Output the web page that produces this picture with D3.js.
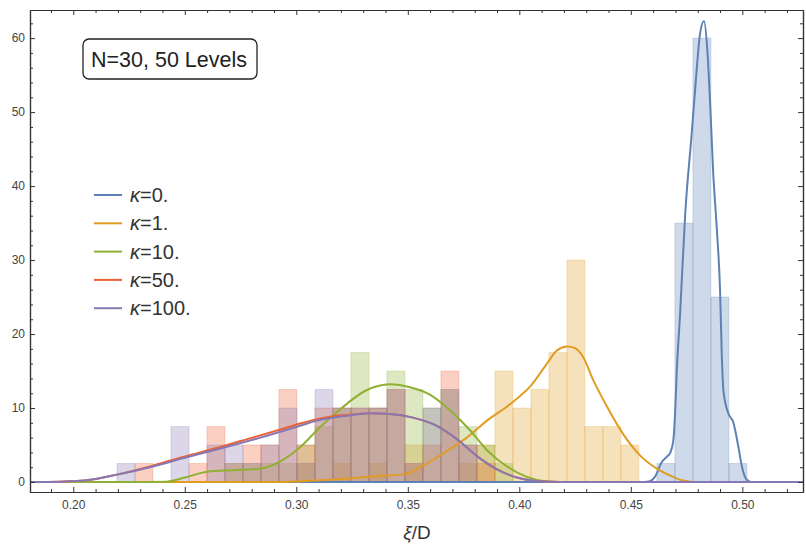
<!DOCTYPE html>
<html>
<head>
<meta charset="utf-8">
<script src="https://cdn.jsdelivr.net/npm/d3@7"></script>
<style>
  body { margin: 0; background: #fff; }
  text { font-family: "Liberation Sans", Arial, sans-serif; }
  .axis path { stroke: #333; }
  .axis line { stroke: #333; }
  .axis text { fill: #444; font-size: 12px; }
</style>
</head>
<body>
<div id="chart"></div>
<script>
// series (legend order)
var kappas = ["0.", "1.", "10.", "50.", "100."];
var colors = ["#5E81B5", "#E19C24", "#8FB032", "#EB6235", "#8778B3"];

// histogram bins (common grid), heights
var binStart = 0.2196, binWidth = 0.00807;
var histK0   = [0,0,0,0,0,0,0,0,0,0, 0,0,0,0,0,0,0,0,0,0, 0,0,0,0,0,0,0,0,0,0, 2.5,35,60,25,2.5];
var histK1   = [0,0,0,0,0,0,0,0,0,0, 2.5,0,2.5,0,2.5,0,5,0,0,2.5, 5,15,10,12.5,17.5,30,7.5,7.5,5,0, 0,0,0,0,0];
var histK10  = [0,0,0,0,0,0,2.5,2.5,2.5,2.5, 5,7.5,10,17.5,10,15,12.5,10,12.5,7.5, 5,2.5,0,0,0,0,0,0,0,0, 0,0,0,0,0];
var histK50  = [0,2.5,0,0,2.5,7.5,2.5,5,5,12.5, 5,10,10,10,10,12.5,2.5,5,15,5, 2.5,0,0,0,0,0,0,0,0,0, 0,0,0,0,0];
var histK100 = [2.5,0,0,7.5,0,5,5,2.5,5,10, 2.5,12.5,10,10,10,12.5,2.5,10,12.5,5, 0,0,0,0,0,0,0,0,0,0, 0,0,0,0,0];

// smoothed density curves [xi/D, density]
var curveK0 = [[0.1806,0],[0.4560,0],[0.4585,0.1],[0.4608,0.7],[0.4639,2.7],[0.4661,3.4],[0.4676,3.9],
  [0.4690,5.5],[0.4698,9],[0.4706,15],[0.4721,22.8],[0.4744,36.3],[0.4773,47.1],[0.4796,56],
  [0.4810,60.5],[0.4828,62.3],[0.4843,58.4],[0.4855,51.6],[0.4869,42],[0.4886,34],[0.4900,26],
  [0.4908,17],[0.4915,12.4],[0.4937,9.3],[0.4960,8],[0.4982,4.8],[0.4998,2.1],[0.5020,0.3],[0.5040,0],[0.5272,0]];
var curveK1 = [[0.1806,0],[0.2900,0],[0.3017,0.1],[0.3150,0.3],[0.3245,0.5],[0.3375,0.8],[0.3490,1.1],
  [0.3568,2.2],[0.3650,3.7],[0.3760,5.9],[0.3868,8.6],[0.3936,10.0],[0.3990,11.3],[0.4048,12.9],
  [0.4124,16.0],[0.4169,17.8],[0.4214,18.3],[0.4250,18.1],[0.4286,16.9],[0.4331,13.8],[0.4393,10.2],
  [0.4465,6.5],[0.4541,3.6],[0.4617,1.8],[0.4689,0.7],[0.4734,0.2],[0.4787,0],[0.5272,0]];
var curveK10 = [[0.1806,0],[0.2254,0],[0.2420,0.05],[0.2501,0.6],[0.2600,1.4],[0.2716,1.6],[0.2837,1.8],
  [0.2940,3.0],[0.3017,4.7],[0.3106,7.4],[0.3196,9.8],[0.3308,12.3],[0.3420,13.2],[0.3496,12.9],
  [0.3599,11.8],[0.3689,9.7],[0.3779,7.0],[0.3855,4.3],[0.3945,2.1],[0.4034,0.7],[0.4115,0.1],[0.4183,0],[0.5272,0]];
var curveK50 = [[0.1806,0],[0.1940,0.05],[0.2075,0.3],[0.2196,1.0],[0.2344,2.1],[0.2492,3.4],[0.2643,4.6],
  [0.2792,5.9],[0.2940,7.2],[0.3017,7.9],[0.3093,8.5],[0.3165,8.9],[0.3241,9.1],[0.3330,9.3],
  [0.3420,9.2],[0.3523,8.7],[0.3630,7.6],[0.3720,5.8],[0.3810,3.5],[0.3900,1.7],[0.4003,0.5],[0.4093,0.1],[0.4183,0],[0.5272,0]];
var curveK100 = [[0.1806,0],[0.1940,0.05],[0.2075,0.3],[0.2196,1.0],[0.2344,2.0],[0.2492,3.2],[0.2643,4.4],
  [0.2792,5.6],[0.2940,6.9],[0.3017,7.6],[0.3093,8.3],[0.3165,8.7],[0.3241,9.0],[0.3330,9.3],
  [0.3420,9.2],[0.3523,8.7],[0.3630,7.6],[0.3720,5.8],[0.3810,3.5],[0.3900,1.7],[0.4003,0.5],[0.4093,0.1],[0.4183,0],[0.5272,0]];

// axis ticks
var xMajor = [0.20, 0.25, 0.30, 0.35, 0.40, 0.45, 0.50];
var xLabels = ["0.20", "0.25", "0.30", "0.35", "0.40", "0.45", "0.50"];
var xMinor = [0.19,0.21,0.22,0.23,0.24,0.26,0.27,0.28,0.29,0.31,0.32,0.33,0.34,0.36,0.37,0.38,0.39,
              0.41,0.42,0.43,0.44,0.46,0.47,0.48,0.49,0.51,0.52];
var yMajor = [0, 10, 20, 30, 40, 50, 60];
var yMinor = [2,4,6,8,12,14,16,18,22,24,26,28,32,34,36,38,42,44,46,48,52,54,56,58,62];

var hists = [histK0, histK1, histK10, histK50, histK100];
var curves = [curveK0, curveK1, curveK10, curveK50, curveK100];

var margin = {top: 10, right: 3, bottom: 52, left: 30},
    width = 806 - margin.left - margin.right,
    height = 544 - margin.top - margin.bottom;

var root = d3.select("#chart").append("svg")
    .attr("width", 806)
    .attr("height", 544);

var svg = root.append("g")
    .attr("transform", "translate(" + margin.left + "," + margin.top + ")");

var x = d3.scaleLinear().domain([0.1806, 0.5272]).range([0, width]),
    y = d3.scaleLinear().domain([-1.35, 63.8]).range([height, 0]);

svg.append("defs").append("clipPath")
    .attr("id", "clip")
  .append("rect")
    .attr("width", width)
    .attr("height", height);

var plot = svg.append("g").attr("clip-path", "url(#clip)");

// histograms
hists.forEach(function(h, i) {
  var bars = [];
  h.forEach(function(v, k) { if (v > 0) bars.push({k: k, v: v}); });
  plot.append("g")
    .selectAll("rect")
    .data(bars)
    .enter().append("rect")
      .attr("x", function(d) { return x(binStart + d.k * binWidth); })
      .attr("width", function(d) { return x(binStart + (d.k + 1) * binWidth) - x(binStart + d.k * binWidth); })
      .attr("y", function(d) { return y(d.v); })
      .attr("height", function(d) { return y(0) - y(d.v); })
      .attr("fill", colors[i])
      .attr("fill-opacity", 0.3)
      .attr("stroke", colors[i])
      .attr("stroke-opacity", 0.3)
      .attr("stroke-width", 0.8);
});

// curves
var line = d3.line()
    .x(function(d) { return x(d[0]); })
    .y(function(d) { return y(d[1]); })
    .curve(d3.curveMonotoneX);

curves.forEach(function(c, i) {
  plot.append("path")
      .datum(c)
      .attr("fill", "none")
      .attr("stroke", colors[i])
      .attr("stroke-width", 2)
      .attr("d", line);
});

// frame axes, ticks pointing inward
function fmtX(d) { return xLabels[xMajor.indexOf(d)]; }

svg.append("g").attr("class", "axis")
    .attr("transform", "translate(0," + height + ")")
    .call(d3.axisBottom(x).tickValues(xMajor).tickFormat(fmtX).tickSizeInner(-5).tickSizeOuter(0).tickPadding(8));
svg.append("g").attr("class", "axis")
    .attr("transform", "translate(0," + height + ")")
    .call(d3.axisBottom(x).tickValues(xMinor).tickFormat("").tickSizeInner(-3).tickSizeOuter(0));
svg.append("g").attr("class", "axis")
    .call(d3.axisTop(x).tickValues(xMajor).tickFormat("").tickSizeInner(-5).tickSizeOuter(0));
svg.append("g").attr("class", "axis")
    .call(d3.axisTop(x).tickValues(xMinor).tickFormat("").tickSizeInner(-3).tickSizeOuter(0));

svg.append("g").attr("class", "axis")
    .call(d3.axisLeft(y).tickValues(yMajor).tickFormat(d3.format("d")).tickSizeInner(-5).tickSizeOuter(0).tickPadding(5));
svg.append("g").attr("class", "axis")
    .call(d3.axisLeft(y).tickValues(yMinor).tickFormat("").tickSizeInner(-3).tickSizeOuter(0));
svg.append("g").attr("class", "axis")
    .attr("transform", "translate(" + width + ",0)")
    .call(d3.axisRight(y).tickValues(yMajor).tickFormat("").tickSizeInner(-5).tickSizeOuter(0));
svg.append("g").attr("class", "axis")
    .attr("transform", "translate(" + width + ",0)")
    .call(d3.axisRight(y).tickValues(yMinor).tickFormat("").tickSizeInner(-3).tickSizeOuter(0));

svg.selectAll(".axis .domain").attr("stroke-width", 1.2);

// x label
var xl = root.append("text")
    .attr("x", 417)
    .attr("y", 539)
    .attr("text-anchor", "middle")
    .attr("font-size", "19px")
    .attr("fill", "#333");
xl.append("tspan").attr("font-style", "italic").text("ξ");
xl.append("tspan").text("/D");

// info box
root.append("rect")
    .attr("x", 83).attr("y", 39)
    .attr("width", 174).attr("height", 40)
    .attr("rx", 6)
    .attr("fill", "#fff")
    .attr("stroke", "#222")
    .attr("stroke-width", 1.3);
root.append("text")
    .attr("x", 169).attr("y", 66.5)
    .attr("text-anchor", "middle")
    .attr("font-size", "21.5px")
    .attr("fill", "#222")
    .text("N=30, 50 Levels");

// legend
var legend = root.append("g").attr("transform", "translate(94,195)");
kappas.forEach(function(k, i) {
  var g = legend.append("g").attr("transform", "translate(0," + (i * 28.3) + ")");
  g.append("line")
      .attr("x1", 0).attr("x2", 28)
      .attr("stroke", colors[i])
      .attr("stroke-width", 2);
  var t = g.append("text")
      .attr("x", 36).attr("y", 7)
      .attr("font-size", "20px")
      .attr("fill", "#333");
  t.append("tspan").attr("font-style", "italic").text("κ");
  t.append("tspan").text("=" + k);
});
</script>
</body>
</html>
